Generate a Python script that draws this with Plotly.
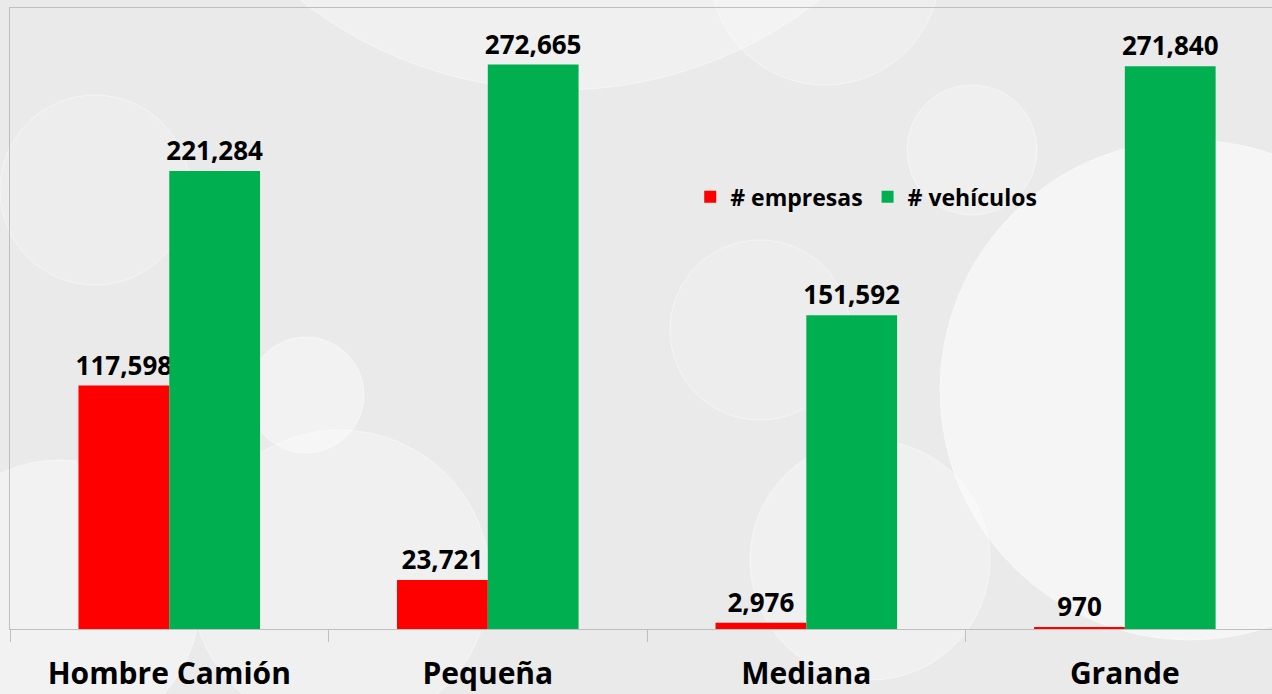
import plotly.graph_objects as go

categories = ["Hombre Camión", "Pequeña", "Mediana", "Grande"]
empresas = [117598, 23721, 2976, 970]
vehiculos = [221284, 272665, 151592, 271840]

FONT = "Open Sans"
LINE = "#bfbfbf"

W, H = 1272, 694
# plot area in window pixels
PX_LEFT, PX_RIGHT, PX_TOP, PX_BOTTOM = 10, 1272, 8, 629

bubbles = [  # soft background bubbles: (center x, center y, radius, fill alpha) in pixels
    (825, -30, 115, 0.20),
    (560, -330, 420, 0.30),
    (95, 190, 95, 0.15),
    (306, 395, 58, 0.40),
    (340, 580, 150, 0.30),
    (972, 150, 65, 0.25),
    (760, 330, 90, 0.15),
    (1190, 390, 250, 0.50),
    (60, 600, 140, 0.40),
    (870, 560, 120, 0.30),
]


def bar(name, values, color):
    return go.Bar(
        name=name,
        x=categories,
        y=values,
        marker=dict(color=color, line=dict(width=0)),
        texttemplate="%{y:,}",
        textposition="outside",
        constraintext="none",
        textfont=dict(family=FONT, size=26, color="black", weight="bold"),
        cliponaxis=False,
    )


def px_x(v):
    return (v - PX_LEFT) / (PX_RIGHT - PX_LEFT)


def px_y(v):
    return (PX_BOTTOM - v) / (PX_BOTTOM - PX_TOP)


fig = go.Figure()
fig.add_trace(bar("# empresas", empresas, "#ff0000"))
fig.add_trace(bar("# vehículos", vehiculos, "#00b050"))

for cx, cy, r, a in bubbles:
    fig.add_shape(
        type="circle",
        xref="paper",
        yref="paper",
        x0=px_x(cx - r),
        x1=px_x(cx + r),
        y0=px_y(cy + r),
        y1=px_y(cy - r),
        fillcolor=f"rgba(255,255,255,{a})",
        line=dict(color="rgba(255,255,255,0.45)", width=1),
        layer="below",
    )

fig.update_layout(
    width=W,
    height=H,
    margin=dict(l=PX_LEFT, r=0, t=PX_TOP, b=H - PX_BOTTOM),
    paper_bgcolor="#eaeaea",
    plot_bgcolor="rgba(0,0,0,0)",
    barmode="group",
    bargap=0.43,
    bargroupgap=0,
    font=dict(family=FONT, color="black"),
    legend=dict(
        orientation="h",
        x=0.539,
        y=0.696,
        xanchor="left",
        yanchor="middle",
        bgcolor="rgba(0,0,0,0)",
        font=dict(family=FONT, size=23, color="black", weight="bold"),
        itemwidth=30,
        traceorder="normal",
    ),
    xaxis=dict(
        range=[-0.5, 3.462],
        automargin=False,
        showline=True,
        linecolor=LINE,
        linewidth=1,
        mirror=True,
        ticks="outside",
        tickson="boundaries",
        ticklen=12,
        tickcolor=LINE,
        tickfont=dict(family=FONT, size=30, color="black", weight="bold"),
        ticklabelstandoff=18,
        showgrid=False,
    ),
    yaxis=dict(
        range=[0, 300000],
        automargin=False,
        showline=True,
        linecolor=LINE,
        linewidth=1,
        showticklabels=False,
        ticks="",
        showgrid=False,
        zeroline=False,
    ),
)

# drop the default page margin so the figure fills the window edge to edge
fig.write_html(
    "out.html",
    config={"displayModeBar": False},
    post_script="document.body.style.margin = '0';",
)
